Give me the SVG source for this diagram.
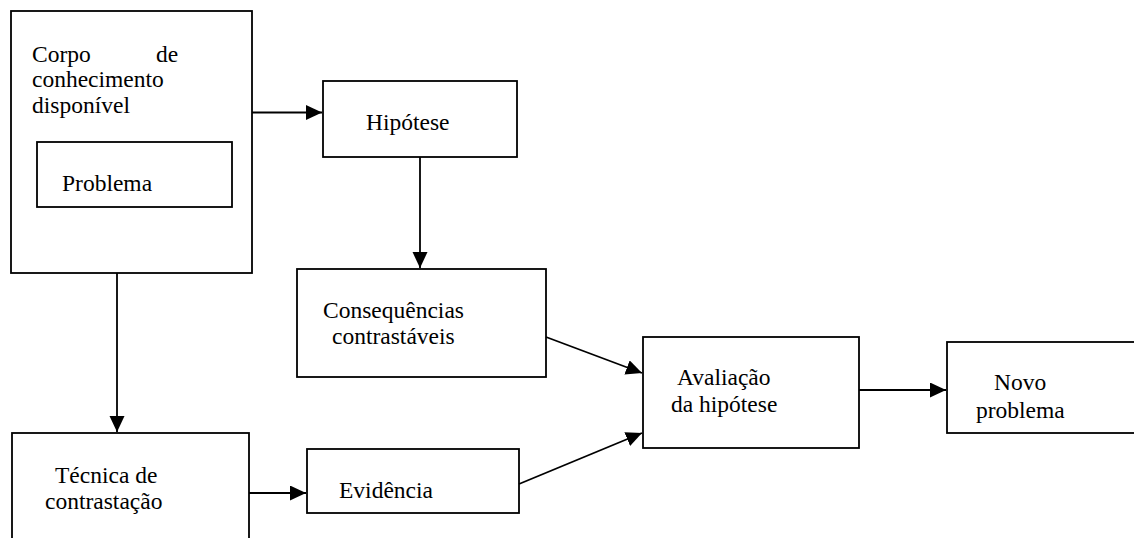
<svg xmlns="http://www.w3.org/2000/svg" width="1134" height="538" viewBox="0 0 1134 538">
<style>
.box{fill:#fff;stroke:#000;stroke-width:1.8}
.t{font-family:"Liberation Serif","Times New Roman",serif;font-size:23.5px;fill:#000}
.c{fill:none;stroke:#000;stroke-width:1.8}
</style>
<defs>
<marker id="ah" markerUnits="userSpaceOnUse" markerWidth="18" markerHeight="16" refX="16" refY="7.5" orient="auto">
<path d="M0,0 L16,7.5 L0,15 Z" fill="#000"/>
</marker>
</defs>
<rect width="1134" height="538" fill="#fff"/>
<g id="corpo">
<rect class="box" x="11" y="11" width="241" height="262"/>
<text class="t" x="32" y="62">Corpo</text>
<text class="t" x="156" y="62">de</text>
<text class="t" x="32" y="87">conhecimento</text>
<text class="t" x="32" y="113">disponível</text>
</g>
<g id="problema">
<rect class="box" x="37" y="142" width="195" height="65"/>
<text class="t" x="62" y="191">Problema</text>
</g>
<g id="hipotese">
<rect class="box" x="323" y="81" width="194" height="76"/>
<text class="t" x="366" y="130">Hipótese</text>
</g>
<g id="consequencias">
<rect class="box" x="297" y="269" width="249" height="108"/>
<text class="t" x="323" y="318">Consequências</text>
<text class="t" x="332" y="344">contrastáveis</text>
</g>
<g id="avaliacao">
<rect class="box" x="643" y="337" width="216" height="111"/>
<text class="t" x="677" y="385">Avaliação</text>
<text class="t" x="671" y="412">da hipótese</text>
</g>
<g id="novo">
<rect class="box" x="947" y="342" width="188" height="91"/>
<text class="t" x="994" y="390">Novo</text>
<text class="t" x="976" y="418">problema</text>
</g>
<g id="tecnica">
<rect class="box" x="12" y="433" width="237" height="110"/>
<text class="t" x="55" y="483">Técnica de</text>
<text class="t" x="45" y="509">contrastação</text>
</g>
<g id="evidencia">
<rect class="box" x="307" y="449" width="212" height="64"/>
<text class="t" x="339" y="498">Evidência</text>
</g>
<g id="connectors">
<line class="c" x1="252" y1="112.5" x2="322" y2="112.5" marker-end="url(#ah)"/>
<line class="c" x1="420" y1="157" x2="420" y2="268" marker-end="url(#ah)"/>
<line class="c" x1="117" y1="273" x2="117" y2="432" marker-end="url(#ah)"/>
<line class="c" x1="249" y1="493" x2="306" y2="493" marker-end="url(#ah)"/>
<line class="c" x1="546" y1="337" x2="642" y2="373" marker-end="url(#ah)"/>
<line class="c" x1="519" y1="484" x2="642" y2="433" marker-end="url(#ah)"/>
<line class="c" x1="859" y1="390" x2="946" y2="390" marker-end="url(#ah)"/>
</g>
</svg>
